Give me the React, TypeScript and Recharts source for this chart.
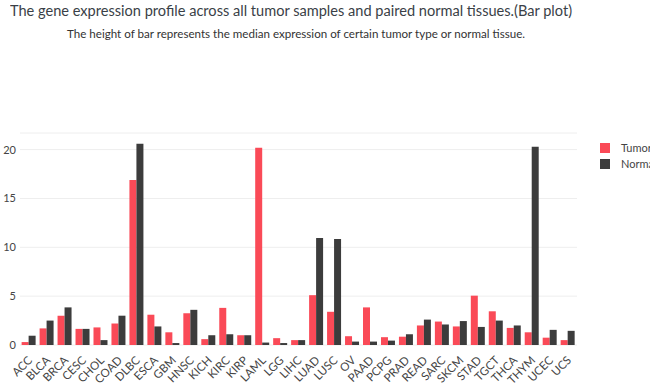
import React from 'react';
import { BarChart, Bar, XAxis, YAxis, CartesianGrid } from 'recharts';

const cancerTypes = [
  'ACC', 'BLCA', 'BRCA', 'CESC', 'CHOL', 'COAD', 'DLBC', 'ESCA', 'GBM', 'HNSC', 'KICH',
  'KIRC', 'KIRP', 'LAML', 'LGG', 'LIHC', 'LUAD', 'LUSC', 'OV', 'PAAD', 'PCPG', 'PRAD',
  'READ', 'SARC', 'SKCM', 'STAD', 'TGCT', 'THCA', 'THYM', 'UCEC', 'UCS',
];

const tumorValues = [
  0.3, 1.7, 3.0, 1.65, 1.8, 2.2, 16.9, 3.1, 1.3, 3.25, 0.6,
  3.8, 1.0, 20.2, 0.7, 0.5, 5.1, 3.4, 0.9, 3.85, 0.8, 0.85,
  2.0, 2.4, 1.9, 5.05, 3.45, 1.75, 1.3, 0.75, 0.5,
];

const normalValues = [
  0.95, 2.5, 3.85, 1.65, 0.5, 3.0, 20.6, 1.9, 0.2, 3.6, 1.0,
  1.1, 1.0, 0.25, 0.2, 0.5, 10.95, 10.85, 0.35, 0.35, 0.45, 1.1,
  2.6, 2.1, 2.45, 1.85, 2.5, 2.0, 20.3, 1.55, 1.45,
];

const yTicks = [0, 5, 10, 15, 20];

const TUMOR = '#fa4a57';
const NORMAL = '#3c3c3c';
const FONT = 'Lato, "Open Sans", sans-serif';

const data = cancerTypes.map((name, i) => ({
  name,
  Tumor: tumorValues[i],
  Normal: normalValues[i],
}));

const AngledTick = ({ x, y, payload }: any) => (
  <g transform={`translate(${x + 4},${y + 8})`}>
    <text
      transform="rotate(-45)"
      textAnchor="end"
      fontSize={11.5}
      fill="#444"
      fontFamily={FONT}
    >
      {payload.value}
    </text>
  </g>
);

export default function App() {
  return (
    <div
      style={{
        position: 'absolute',
        left: 0,
        top: 0,
        width: 650,
        height: 385,
        overflow: 'hidden',
        background: '#fff',
        fontFamily: FONT,
      }}
    >
      <div
        style={{
          position: 'absolute',
          left: 10,
          top: 1,
          fontSize: 15.5,
          color: '#3a3f47',
          whiteSpace: 'nowrap',
          transform: 'scaleX(0.94)',
          transformOrigin: 'left top',
        }}
      >
        The gene expression profile across all tumor samples and paired normal tissues.(Bar plot)
      </div>
      <div
        style={{
          position: 'absolute',
          left: 67,
          top: 27,
          fontSize: 11.6,
          color: '#333',
          whiteSpace: 'nowrap',
        }}
      >
        The height of bar represents the median expression of certain tumor type or normal tissue.
      </div>

      <div style={{ position: 'absolute', left: 0, top: 0 }}>
        <BarChart
          width={650}
          height={385}
          data={data}
          margin={{ top: 133, right: 73, left: 0, bottom: 0 }}
          barCategoryGap="9%"
          barGap={0}
        >
          <CartesianGrid vertical={false} stroke="#eeeeee" />
          <XAxis
            dataKey="name"
            interval={0}
            height={40}
            axisLine={false}
            tickLine={false}
            tick={<AngledTick />}
          />
          <YAxis
            width={20}
            domain={[0, 21.7]}
            ticks={yTicks}
            axisLine={false}
            tickLine={false}
            tickSize={0}
            tickMargin={4}
            tick={{ fontSize: 11, fill: '#444', fontFamily: FONT }}
          />
          <Bar dataKey="Tumor" fill={TUMOR} isAnimationActive={false} />
          <Bar dataKey="Normal" fill={NORMAL} isAnimationActive={false} />
        </BarChart>
      </div>

      <div style={{ position: 'absolute', left: 600, top: 140, fontSize: 11, color: '#444', lineHeight: '16px' }}>
        <div style={{ display: 'flex', alignItems: 'center', whiteSpace: 'nowrap' }}>
          <span style={{ width: 10, height: 10, background: TUMOR, marginRight: 11 }} />
          Tumor
        </div>
        <div style={{ display: 'flex', alignItems: 'center', whiteSpace: 'nowrap' }}>
          <span style={{ width: 10, height: 10, background: NORMAL, marginRight: 11 }} />
          Normal
        </div>
      </div>
    </div>
  );
}
